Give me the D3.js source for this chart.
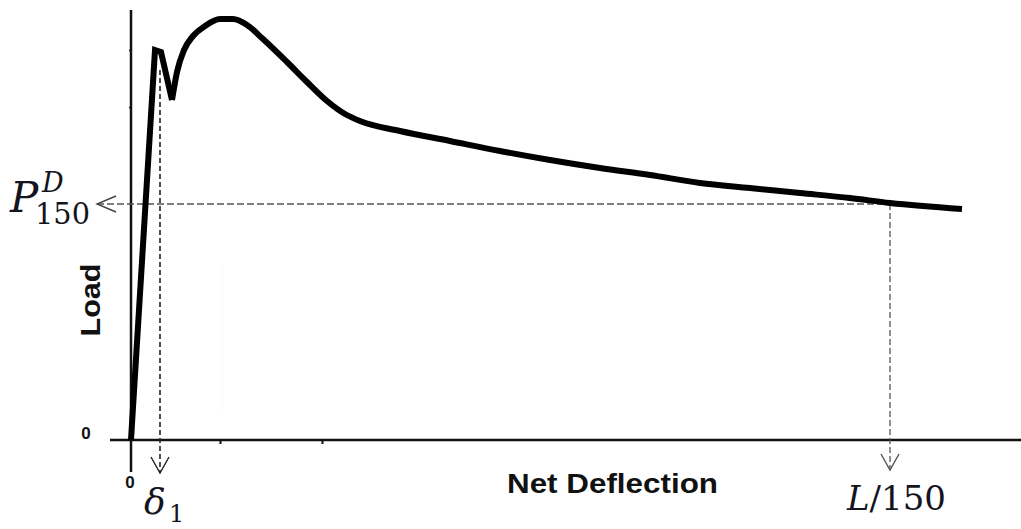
<!DOCTYPE html>
<html>
<head>
<meta charset="utf-8">
<script src="https://cdn.jsdelivr.net/npm/d3@7/dist/d3.min.js"></script>
<style>
  html, body { margin: 0; padding: 0; background: #fff; }
  svg { display: block; }
</style>
</head>
<body>
<svg id="chart" width="1021" height="529"></svg>
<script>
// ---- data (deflection units, load units) ----
const elasticX = [0, 2.4, 3.0, 4.1];
const elasticY = [0, 39.0, 38.8, 34.0];

const postPeakX = [4.1, 4.6, 5.3, 6.2, 7.4, 8.9, 10.2, 11.6, 13.2, 15.6, 17.6, 19.6, 21.4, 22.9, 26.9, 31.9, 36.9, 41.9, 46.9, 51.9, 56.9, 61.9, 66.9, 71.9, 75.9, 83.1];
const postPeakY = [34.0, 36.8, 39.0, 40.4, 41.4, 42.1, 42.1, 41.5, 40.1, 37.8, 35.8, 33.9, 32.6, 31.9, 30.9, 29.9, 28.9, 28.0, 27.2, 26.5, 25.7, 25.2, 24.7, 24.2, 23.7, 23.1];

const delta1 = 2.9;        // δ1 deflection
const deltaTop = 37.0;     // where the δ1 drop line starts
const L150 = 75.9;         // L/150 deflection
const P150 = 23.6;         // P^D_150 load

const xTickValues = [8.9, 19.1];
const yTickValues = [33.3, 39.0];
const xDomain = [0, 89];
const yDomain = [0, 43];

// ---- setup ----
const svg = d3.select("#chart");
const x = d3.scaleLinear().domain(xDomain).range([131, 1021]);
const y = d3.scaleLinear().domain(yDomain).range([440, 10]);
const ink = "#111";

// faint dotted guide
svg.append("line")
  .attr("x1", x(9.1)).attr("x2", x(9.1))
  .attr("y1", y(17.5)).attr("y2", y(3))
  .attr("stroke", "#ececec").attr("stroke-width", 1)
  .attr("stroke-dasharray", "1,2");

// ---- axes ----
const xAxis = svg.append("g").attr("transform", `translate(0,${y(0)})`)
  .call(d3.axisBottom(x).tickValues(xTickValues).tickSize(4).tickSizeOuter(0).tickFormat(""));
xAxis.select(".domain").remove();
xAxis.selectAll(".tick line").attr("stroke", ink).attr("stroke-width", 2);

const yAxis = svg.append("g").attr("transform", `translate(${x(0)},0)`)
  .call(d3.axisLeft(y).tickValues(yTickValues).tickSize(2).tickSizeOuter(0).tickFormat(""));
yAxis.select(".domain").remove();
yAxis.selectAll(".tick line").attr("stroke", ink).attr("stroke-width", 1.5);

// axis lines
svg.append("line")
  .attr("x1", x(-2.1)).attr("x2", x(89))
  .attr("y1", y(0)).attr("y2", y(0))
  .attr("stroke", ink).attr("stroke-width", 2.5);
svg.append("line")
  .attr("x1", x(0)).attr("x2", x(0))
  .attr("y1", y(43)).attr("y2", y(-3.2))
  .attr("stroke", ink).attr("stroke-width", 2.5);

// zero labels
svg.append("text").text("0")
  .attr("x", x(-4.5)).attr("y", y(0) - 1)
  .attr("text-anchor", "middle")
  .attr("font-family", "Liberation Sans, Arial, sans-serif")
  .attr("font-weight", "bold").attr("font-size", 17).attr("fill", ink);
svg.append("text").text("0")
  .attr("x", x(-0.1)).attr("y", y(-4.8))
  .attr("text-anchor", "middle")
  .attr("font-family", "Liberation Sans, Arial, sans-serif")
  .attr("font-weight", "bold").attr("font-size", 17).attr("fill", ink);

// ---- dashed guide lines ----
const arrowTipLeft = x(-3.4);
svg.append("line")
  .attr("x1", arrowTipLeft).attr("x2", x(L150))
  .attr("y1", y(P150)).attr("y2", y(P150))
  .attr("stroke", "#555").attr("stroke-width", 1.3)
  .attr("stroke-dasharray", "7,3");
svg.append("line")
  .attr("x1", x(delta1)).attr("x2", x(delta1))
  .attr("y1", y(deltaTop)).attr("y2", y(-3.3))
  .attr("stroke", "#222").attr("stroke-width", 1.6)
  .attr("stroke-dasharray", "5,3");
svg.append("line")
  .attr("x1", x(L150)).attr("x2", x(L150))
  .attr("y1", y(P150)).attr("y2", y(-3.0))
  .attr("stroke", "#555").attr("stroke-width", 1.3)
  .attr("stroke-dasharray", "6,3");

// arrow heads (open V)
function arrowDown(px, py, color) {
  svg.append("path")
    .attr("d", `M${px - 9},${py - 16}L${px},${py}L${px + 9},${py - 16}`)
    .attr("fill", "none").attr("stroke", color).attr("stroke-width", 1.4);
}
arrowDown(x(delta1), y(-3.3), "#222");
arrowDown(x(L150), y(-3.0), "#555");
svg.append("path")
  .attr("d", `M${arrowTipLeft + 19},${y(P150) - 8}L${arrowTipLeft},${y(P150)}L${arrowTipLeft + 19},${y(P150) + 8}`)
  .attr("fill", "none").attr("stroke", "#444").attr("stroke-width", 1.4);

// ---- curve ----
const elastic = elasticX.map((d, i) => [d, elasticY[i]]);
const postPeak = postPeakX.map((d, i) => [d, postPeakY[i]]);

svg.append("path")
  .attr("d", d3.line().x(d => x(d[0])).y(d => y(d[1])).curve(d3.curveLinear)(elastic))
  .attr("fill", "none").attr("stroke", "#000").attr("stroke-width", 6)
  .attr("stroke-linejoin", "miter").attr("stroke-miterlimit", 2);
svg.append("path")
  .attr("d", d3.line().x(d => x(d[0])).y(d => y(d[1])).curve(d3.curveMonotoneX)(postPeak))
  .attr("fill", "none").attr("stroke", "#000").attr("stroke-width", 6)
  .attr("stroke-linecap", "butt");

// ---- axis titles ----
svg.append("text").text("Net Deflection")
  .attr("x", 507).attr("y", 493)
  .attr("font-family", "Liberation Sans, Arial, sans-serif")
  .attr("font-weight", "bold").attr("font-size", 28)
  .attr("textLength", 211).attr("lengthAdjust", "spacingAndGlyphs")
  .attr("fill", ink);
svg.append("text").text("Load")
  .attr("transform", "translate(100,300) rotate(-90)")
  .attr("text-anchor", "middle")
  .attr("font-family", "Liberation Sans, Arial, sans-serif")
  .attr("font-weight", "bold").attr("font-size", 28)
  .attr("textLength", 73).attr("lengthAdjust", "spacingAndGlyphs")
  .attr("fill", ink);

// ---- math annotations ----
const mathFont = "DejaVu Serif, serif";
const mathInk = "#141420";
const yP = y(P150);
svg.append("text").text("P")
  .attr("x", arrowTipLeft - 87).attr("y", yP + 8)
  .attr("font-family", mathFont).attr("font-style", "italic")
  .attr("font-size", 42).attr("fill", mathInk);
svg.append("text").text("D")
  .attr("x", arrowTipLeft - 55).attr("y", yP - 12)
  .attr("font-family", mathFont).attr("font-style", "italic")
  .attr("font-size", 27).attr("fill", mathInk);
svg.append("text").text("150")
  .attr("x", arrowTipLeft - 62).attr("y", yP + 20)
  .attr("font-family", mathFont)
  .attr("font-size", 30).attr("textLength", 55).attr("lengthAdjust", "spacingAndGlyphs")
  .attr("fill", mathInk);

svg.append("text").text("δ")
  .attr("x", x(delta1) - 16).attr("y", 514)
  .attr("font-family", mathFont).attr("font-style", "italic")
  .attr("font-size", 36).attr("fill", mathInk);
svg.append("text").text("1")
  .attr("x", x(delta1) + 9).attr("y", 522)
  .attr("font-family", mathFont)
  .attr("font-size", 24).attr("fill", mathInk);

const lt = svg.append("text")
  .attr("x", x(L150) - 43).attr("y", 510)
  .attr("font-family", mathFont).attr("font-size", 34)
  .attr("textLength", 99).attr("lengthAdjust", "spacingAndGlyphs")
  .attr("fill", mathInk);
lt.append("tspan").attr("font-style", "italic").text("L");
lt.append("tspan").text("/150");
</script>
</body>
</html>
